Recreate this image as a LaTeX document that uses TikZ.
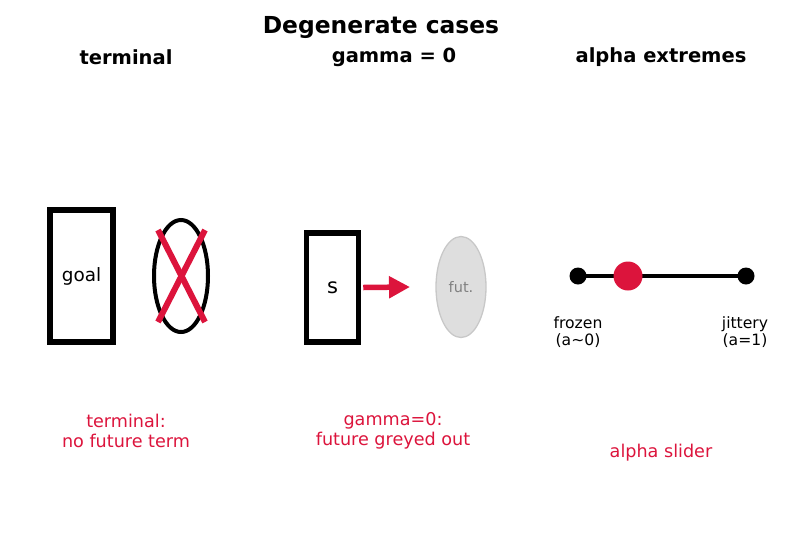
\documentclass[tikz,border=0pt]{standalone}
\usepackage{fontspec}
\setmainfont{DejaVu Sans}
\usetikzlibrary{arrows.meta,shapes.geometric}
\definecolor{crim}{HTML}{DC143C}
\definecolor{fillgrey}{HTML}{DEDEDE}
\definecolor{edgegrey}{HTML}{C8C8C8}
\begin{document}
\begin{tikzpicture}[x=1pt,y=-1pt,
  ttl/.style={font=\bfseries\fontsize{23.4}{27}\selectfont},
  sub/.style={font=\bfseries\fontsize{19.5}{23}\selectfont},
  box/.style={draw=black,line width=5.5pt,anchor=center,inner sep=0pt},
  lbl/.style={text=crim,font=\fontsize{17.6}{19.5}\selectfont,align=center},
  small/.style={font=\fontsize{15.6}{17.5}\selectfont,align=center}]
\useasboundingbox (0,0) rectangle (787,539);
\node[ttl] (title) at (381,27) {Degenerate cases};
\node[sub] (s1) at (126,57) {terminal};
\node[sub] (s2) at (394,57) {gamma = 0};
\node[sub] (s3) at (661,57) {alpha extremes};
% panel 1
\node[box,minimum width=63pt,minimum height=132pt] (goal) at (81.5,276) {\fontsize{18.4}{21}\selectfont goal};
\node[draw=black,line width=4pt,ellipse,minimum width=54pt,minimum height=112pt,inner sep=0pt] (fut1) at (181,276) {};
\coordinate (xa) at (158,230);
\coordinate (xb) at (205,322);
\coordinate (xc) at (205,230);
\coordinate (xd) at (158,322);
\draw[crim,line width=6pt] (xa) -- (xb);
\draw[crim,line width=6pt] (xc) -- (xd);
\node[lbl] (l1) at (126,431) {terminal:\\no future term};
% panel 2
\node[box,minimum width=52pt,minimum height=109pt] (s) at (332.5,287.5) {\fontsize{21}{24}\selectfont s};
\node[fill=fillgrey,draw=edgegrey,line width=1.3pt,ellipse,minimum width=50pt,minimum height=101pt,inner sep=0pt,text=gray,font=\fontsize{14.5}{17}\selectfont] (fut2) at (461,287) {fut.};
\coordinate (arrend) at (410,287);
\draw[crim,line width=5.5pt,line join=round,-{Triangle[length=21pt,width=21pt]}] ([xshift=2pt]s.east) -- (arrend);
\node[lbl] (l2) at (393,431) {gamma=0:\\future greyed out};
% panel 3
\node[circle,fill=black,minimum size=17pt,inner sep=0pt] (d0) at (578,276) {};
\node[circle,fill=black,minimum size=17pt,inner sep=0pt] (d1) at (746,276) {};
\draw[black,line width=4.2pt] (d0.center) -- (d1.center);
\node[circle,fill=crim,minimum size=29pt,inner sep=0pt] (dm) at (628,276) {};
\node[small] (fz) at (578,332) {frozen\\(a\textasciitilde0)};
\node[small] (jt) at (745,332) {jittery\\(a=1)};
\node[lbl] (l3) at (661,453) {alpha slider};
\end{tikzpicture}
\end{document}
